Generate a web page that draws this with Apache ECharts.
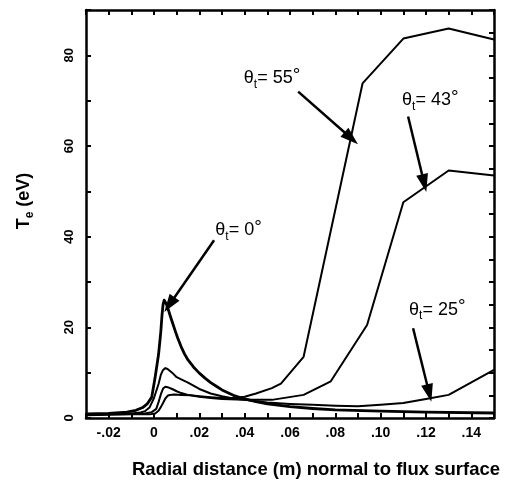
<!DOCTYPE html>
<html>
<head>
<meta charset="utf-8">
<script src="https://cdn.jsdelivr.net/npm/echarts@6/dist/echarts.min.js"></script>
<style>
  html, body { margin: 0; padding: 0; background: #fff; }
  #chart { width: 510px; height: 484px; }
</style>
</head>
<body>
<div id="chart"></div>
<script>
// Te profiles vs radial distance, one curve per target angle
const x0 = [-0.03, -0.02, -0.012, -0.008, -0.005, -0.003, -0.001, 0.0005, 0.002, 0.003, 0.0035, 0.004, 0.0045, 0.005, 0.0055, 0.0065, 0.0075, 0.0085, 0.0095, 0.0105, 0.012, 0.0135, 0.015, 0.0175, 0.02, 0.0225, 0.025, 0.0275, 0.03, 0.035, 0.04, 0.045, 0.05, 0.06, 0.07, 0.08, 0.1, 0.12, 0.15];
const te0 = [0.9, 1.0, 1.3, 1.7, 2.3, 3.1, 4.6, 9.0, 14.0, 19.0, 22.5, 25.0, 26.0, 25.8, 25.1, 23.6, 22.0, 20.5, 19.0, 17.6, 15.7, 14.1, 12.8, 11.2, 9.9, 8.8, 7.8, 7.0, 6.2, 5.0, 4.2, 3.6, 3.1, 2.5, 2.1, 1.8, 1.5, 1.3, 1.1];

const x25 = [-0.03, -0.02, -0.01, -0.006, -0.004, -0.002, 0, 0.002, 0.003, 0.004, 0.005, 0.006, 0.008, 0.01, 0.012, 0.015, 0.02, 0.025, 0.03, 0.035, 0.04, 0.045, 0.05, 0.06, 0.07, 0.08, 0.09, 0.1, 0.11, 0.12, 0.13, 0.15];
const te25 = [0.8, 0.9, 1.0, 1.2, 1.5, 2.3, 4.4, 7.5, 9.5, 10.6, 11, 10.8, 10.0, 9.0, 8.5, 7.8, 6.4, 5.4, 4.8, 4.3, 4.0, 3.7, 3.4, 3.1, 2.9, 2.7, 2.6, 2.9, 3.3, 4.2, 5.1, 10.6];

const x43 = [-0.03, -0.02, -0.01, -0.004, -0.001, 0.001, 0.002, 0.003, 0.004, 0.005, 0.006, 0.008, 0.01, 0.012, 0.015, 0.02, 0.025, 0.03, 0.04, 0.052, 0.066, 0.078, 0.094, 0.11, 0.13, 0.15];
const te43 = [0.7, 0.8, 0.9, 1.0, 1.3, 2.0, 3.5, 5.2, 6.5, 6.9, 6.8, 6.4, 5.9, 5.5, 5.1, 4.7, 4.4, 4.2, 4.0, 4.0, 5.1, 8.1, 20.5, 47.6, 54.6, 53.5];

const x55 = [-0.03, -0.02, -0.01, -0.002, 0.0005, 0.002, 0.003, 0.004, 0.005, 0.006, 0.007, 0.009, 0.012, 0.016, 0.02, 0.025, 0.03, 0.035, 0.04, 0.045, 0.052, 0.056, 0.066, 0.092, 0.11, 0.13, 0.15];
const te55 = [0.6, 0.7, 0.8, 0.8, 1.0, 1.6, 2.4, 3.3, 4.3, 4.9, 5.1, 5.2, 5.1, 5.0, 4.8, 4.6, 4.4, 4.4, 4.7, 5.4, 6.6, 7.6, 13.5, 73.8, 83.7, 85.9, 83.5];

// annotation text anchors and arrows (data coords)
const angleLabels = ['0', '25', '43', '55'];
const labelPos = [[0.0373, 41.4], [0.125, 23.9], [0.1219, 70.1], [0.0521, 74.9]];
const arrowFrom = [[0.0265, 39.2], [0.1143, 19.8], [0.1121, 66.5], [0.0636, 72.0]];
const arrowTo = [[0.0068, 25.0], [0.1214, 5.5], [0.1192, 51.8], [0.087, 61.7]];

const FONT = '"Liberation Sans", Arial, Helvetica, sans-serif';

const chart = echarts.init(document.getElementById('chart'));

const pairs = (xs, ys) => xs.map((v, i) => [v, ys[i]]);

const xLabel = v => {
  const n = Math.round(v * 100);
  if (n % 2 !== 0) return '';
  if (n === 0) return '0';
  const s = (Math.abs(n) / 100).toFixed(2).replace(/^0/, '');
  return n < 0 ? '-' + s : s;
};

const labelRich = {
  m: { fontFamily: FONT, fontSize: 18, lineHeight: 24, color: '#000', verticalAlign: 'middle' },
  sub: { fontFamily: FONT, fontSize: 12, lineHeight: 12, color: '#000', verticalAlign: 'bottom' },
  sup: { fontFamily: FONT, fontSize: 19, lineHeight: 10, color: '#000', verticalAlign: 'top' }
};

const makeSeries = (xs, ys, idx, width) => ({
  type: 'line',
  data: pairs(xs, ys),
  showSymbol: false,
  symbol: 'none',
  smooth: false,
  lineStyle: { color: '#000', width: width, join: 'round' },
  silent: true,
  markLine: {
    silent: true,
    symbol: ['none', 'triangle'],
    symbolSize: [12, 18],
    label: { show: false },
    lineStyle: { color: '#000', width: 2.5, type: 'solid' },
    data: [[{ coord: arrowFrom[idx] }, { coord: arrowTo[idx] }]]
  },
  markPoint: {
    silent: true,
    symbol: 'rect',
    symbolSize: 1,
    itemStyle: { color: 'rgba(0,0,0,0)' },
    label: {
      show: true,
      position: 'inside',
      formatter: '{m|θ}{sub|t}{m|= ' + angleLabels[idx] + '}{sup|°}',
      rich: labelRich
    },
    data: [{ coord: labelPos[idx] }]
  }
});

const tickStyle = { show: true, inside: true, length: 5, lineStyle: { color: '#000', width: 2 } };
const axisLineStyle = { show: true, onZero: false, lineStyle: { color: '#000', width: 2.5 } };

const option = {
  animation: false,
  backgroundColor: '#fff',
  grid: { left: 86, right: 16, top: 10, bottom: 64 },
  xAxis: [
    {
      type: 'value',
      min: -0.03,
      max: 0.15,
      interval: 0.01,
      position: 'bottom',
      axisLine: axisLineStyle,
      axisTick: tickStyle,
      splitLine: { show: false },
      axisLabel: {
        formatter: xLabel,
        color: '#000',
        fontFamily: FONT,
        fontWeight: 'bold',
        fontSize: 14,
        margin: 8
      },
      name: 'Radial distance (m) normal to flux surface',
      nameLocation: 'middle',
      nameGap: 42,
      nameTextStyle: {
        color: '#000',
        fontFamily: FONT,
        fontWeight: 'bold',
        fontSize: 18.5,
        padding: [0, 0, 0, 52]
      }
    },
    {
      type: 'value',
      min: -0.03,
      max: 0.15,
      interval: 0.01,
      position: 'top',
      axisLine: axisLineStyle,
      axisTick: tickStyle,
      axisLabel: { show: false },
      splitLine: { show: false }
    }
  ],
  yAxis: [
    {
      type: 'value',
      min: 0,
      max: 90,
      interval: 10,
      position: 'left',
      axisLine: axisLineStyle,
      axisTick: tickStyle,
      splitLine: { show: false },
      axisLabel: {
        formatter: v => (v % 20 === 0 && v < 90 ? String(v) : ''),
        rotate: 90,
        color: '#000',
        fontFamily: FONT,
        fontWeight: 'bold',
        fontSize: 13,
        margin: 10
      },
      name: '{b|T}{s|e}{b| (eV)}',
      nameLocation: 'middle',
      nameRotate: 90,
      nameGap: 50,
      nameTextStyle: {
        padding: [0, 0, 0, 26],
        rich: {
          b: { fontFamily: FONT, fontWeight: 'bold', fontSize: 18, lineHeight: 24, color: '#000', verticalAlign: 'middle' },
          s: { fontFamily: FONT, fontWeight: 'bold', fontSize: 12, lineHeight: 12, color: '#000', verticalAlign: 'bottom' }
        }
      }
    },
    {
      type: 'value',
      min: 0,
      max: 90,
      interval: 5,
      position: 'right',
      axisLine: axisLineStyle,
      axisTick: tickStyle,
      axisLabel: { show: false },
      splitLine: { show: false }
    }
  ],
  series: [
    makeSeries(x0, te0, 0, 2.8),
    makeSeries(x25, te25, 1, 2),
    makeSeries(x43, te43, 2, 2),
    makeSeries(x55, te55, 3, 2)
  ]
};

chart.setOption(option);
</script>
</body>
</html>
